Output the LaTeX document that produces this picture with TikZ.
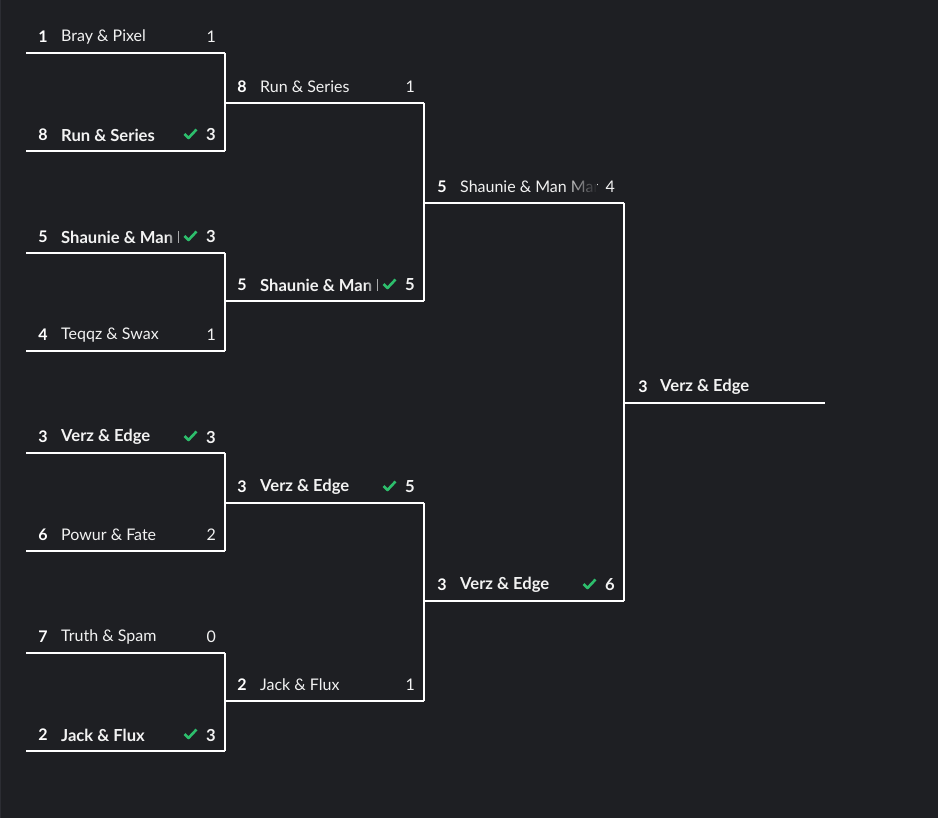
\documentclass[tikz,border=0pt]{standalone}
\usepackage{fontspec}
\setmainfont{Lato}
\usetikzlibrary{fadings}
\definecolor{bgdark}{HTML}{1E1F23}
\definecolor{edgegray}{HTML}{2C2D33}
\definecolor{tickgreen}{HTML}{2DBE6C}
\definecolor{textwhite}{HTML}{F2F2F2}
\tikzfading[name=namefade, left color=transparent!100, right color=transparent!0]

\newcommand{\winfont}{\fontsize{16.6}{19}\selectfont\bfseries}
\tikzset{
  bracket/.style={draw=white, line width=2pt},
  seednum/.style={font=\fontsize{16}{19}\selectfont\bfseries, text=white, anchor=center, inner sep=0pt},
  teamname/.style={font=\fontsize{16}{19}\selectfont, text=textwhite, anchor=west, inner sep=0pt},
  scorenum/.style={font=\fontsize{16}{19}\selectfont, text=textwhite, anchor=east, inner sep=0pt},
  tick/.style={draw=tickgreen, line width=2.6pt, line join=round},
}

% one slot of the bracket: id, left x, line y, seed, team, score, won (1/0), fade width
\newcommand{\teamslot}[8]{%
  \coordinate (#1-w) at (#2,#3);
  \coordinate (#1-e) at (#2+199,#3);
  \node[seednum] (#1-seed) at (#2+17,#3-16) {#4};
  \ifnum#7=1
    \def\nameend{#2+152}
  \else
    \def\nameend{#2+172}
  \fi
  \begin{scope}
    \clip (#2+33,#3-32) rectangle (\nameend,#3-4);
    \node[teamname] (#1-team) at (#2+35,#3-16) {\ifnum#7=1 \winfont\fi #5};
    \fill[bgdark, path fading=namefade] (\nameend-#8,#3-32) rectangle (\nameend,#3-4);
  \end{scope}
  \node[scorenum] (#1-score) at (#2+190,#3-16) {\ifnum#7=1 \winfont\fi #6};
  \ifnum#7=1
    \draw[tick] (#2+158.5,#3-17) -- (#2+162.5,#3-13) -- (#2+170.5,#3-21.5);
  \fi
  \draw[bracket] (#1-w) -- (#1-e);
}

\begin{document}
\begin{tikzpicture}[x=1pt, y=-1pt]

    % background and faint left edge
    \fill[bgdark] (0,0) rectangle (938,818);
    \useasboundingbox (0,0) rectangle (938,818);
    \draw[edgegray, line width=1pt] (0.5,0) -- (0.5,818);

    % first round
    \foreach \seed/\team/\score/\won [count=\i from 0] in
      {1/Bray \& Pixel/1/0, 8/Run \& Series/3/1,
       5/Shaunie \& Man Man/3/1, 4/Teqqz \& Swax/1/0,
       3/Verz \& Edge/3/1, 6/Powur \& Fate/2/0,
       7/Truth \& Spam/0/0, 2/Jack \& Flux/3/1} {
        \pgfmathsetmacro{\ly}{53+100*\i+(mod(\i,2)==1 ? -2 : 0)}
        \teamslot{ra\i}{26}{\ly}{\seed}{\team}{\score}{\won}{12}
    }
    \foreach \k in {0,2,4,6} {
        \pgfmathtruncatemacro{\n}{\k+1}
        \draw[bracket] (ra\k-e) -- (ra\n-e);
    }

    % second round
    \foreach \seed/\team/\score/\won/\ly [count=\i from 0] in
      {8/Run \& Series/1/0/103, 5/Shaunie \& Man Man/5/1/301,
       3/Verz \& Edge/5/1/503, 2/Jack \& Flux/1/0/701} {
        \teamslot{rb\i}{225}{\ly}{\seed}{\team}{\score}{\won}{12}
    }
    \draw[bracket] (rb0-e) -- (rb1-e);
    \draw[bracket] (rb2-e) -- (rb3-e);

    % third round
    \teamslot{rc0}{425}{203}{5}{Shaunie \& Man Man}{4}{0}{34}
    \teamslot{rc1}{425}{601}{3}{Verz \& Edge}{6}{1}{12}
    \draw[bracket] (rc0-e) -- (rc1-e);

    % winner
    \coordinate (champ-w) at (625,403);
    \coordinate (champ-e) at (825,403);
    \node[seednum] (champ-seed) at (643,387) {3};
    \node[teamname, font=\winfont] (champ-team) at (660,387) {Verz \& Edge};
    \draw[bracket] (champ-w) -- (champ-e);

\end{tikzpicture}
\end{document}
